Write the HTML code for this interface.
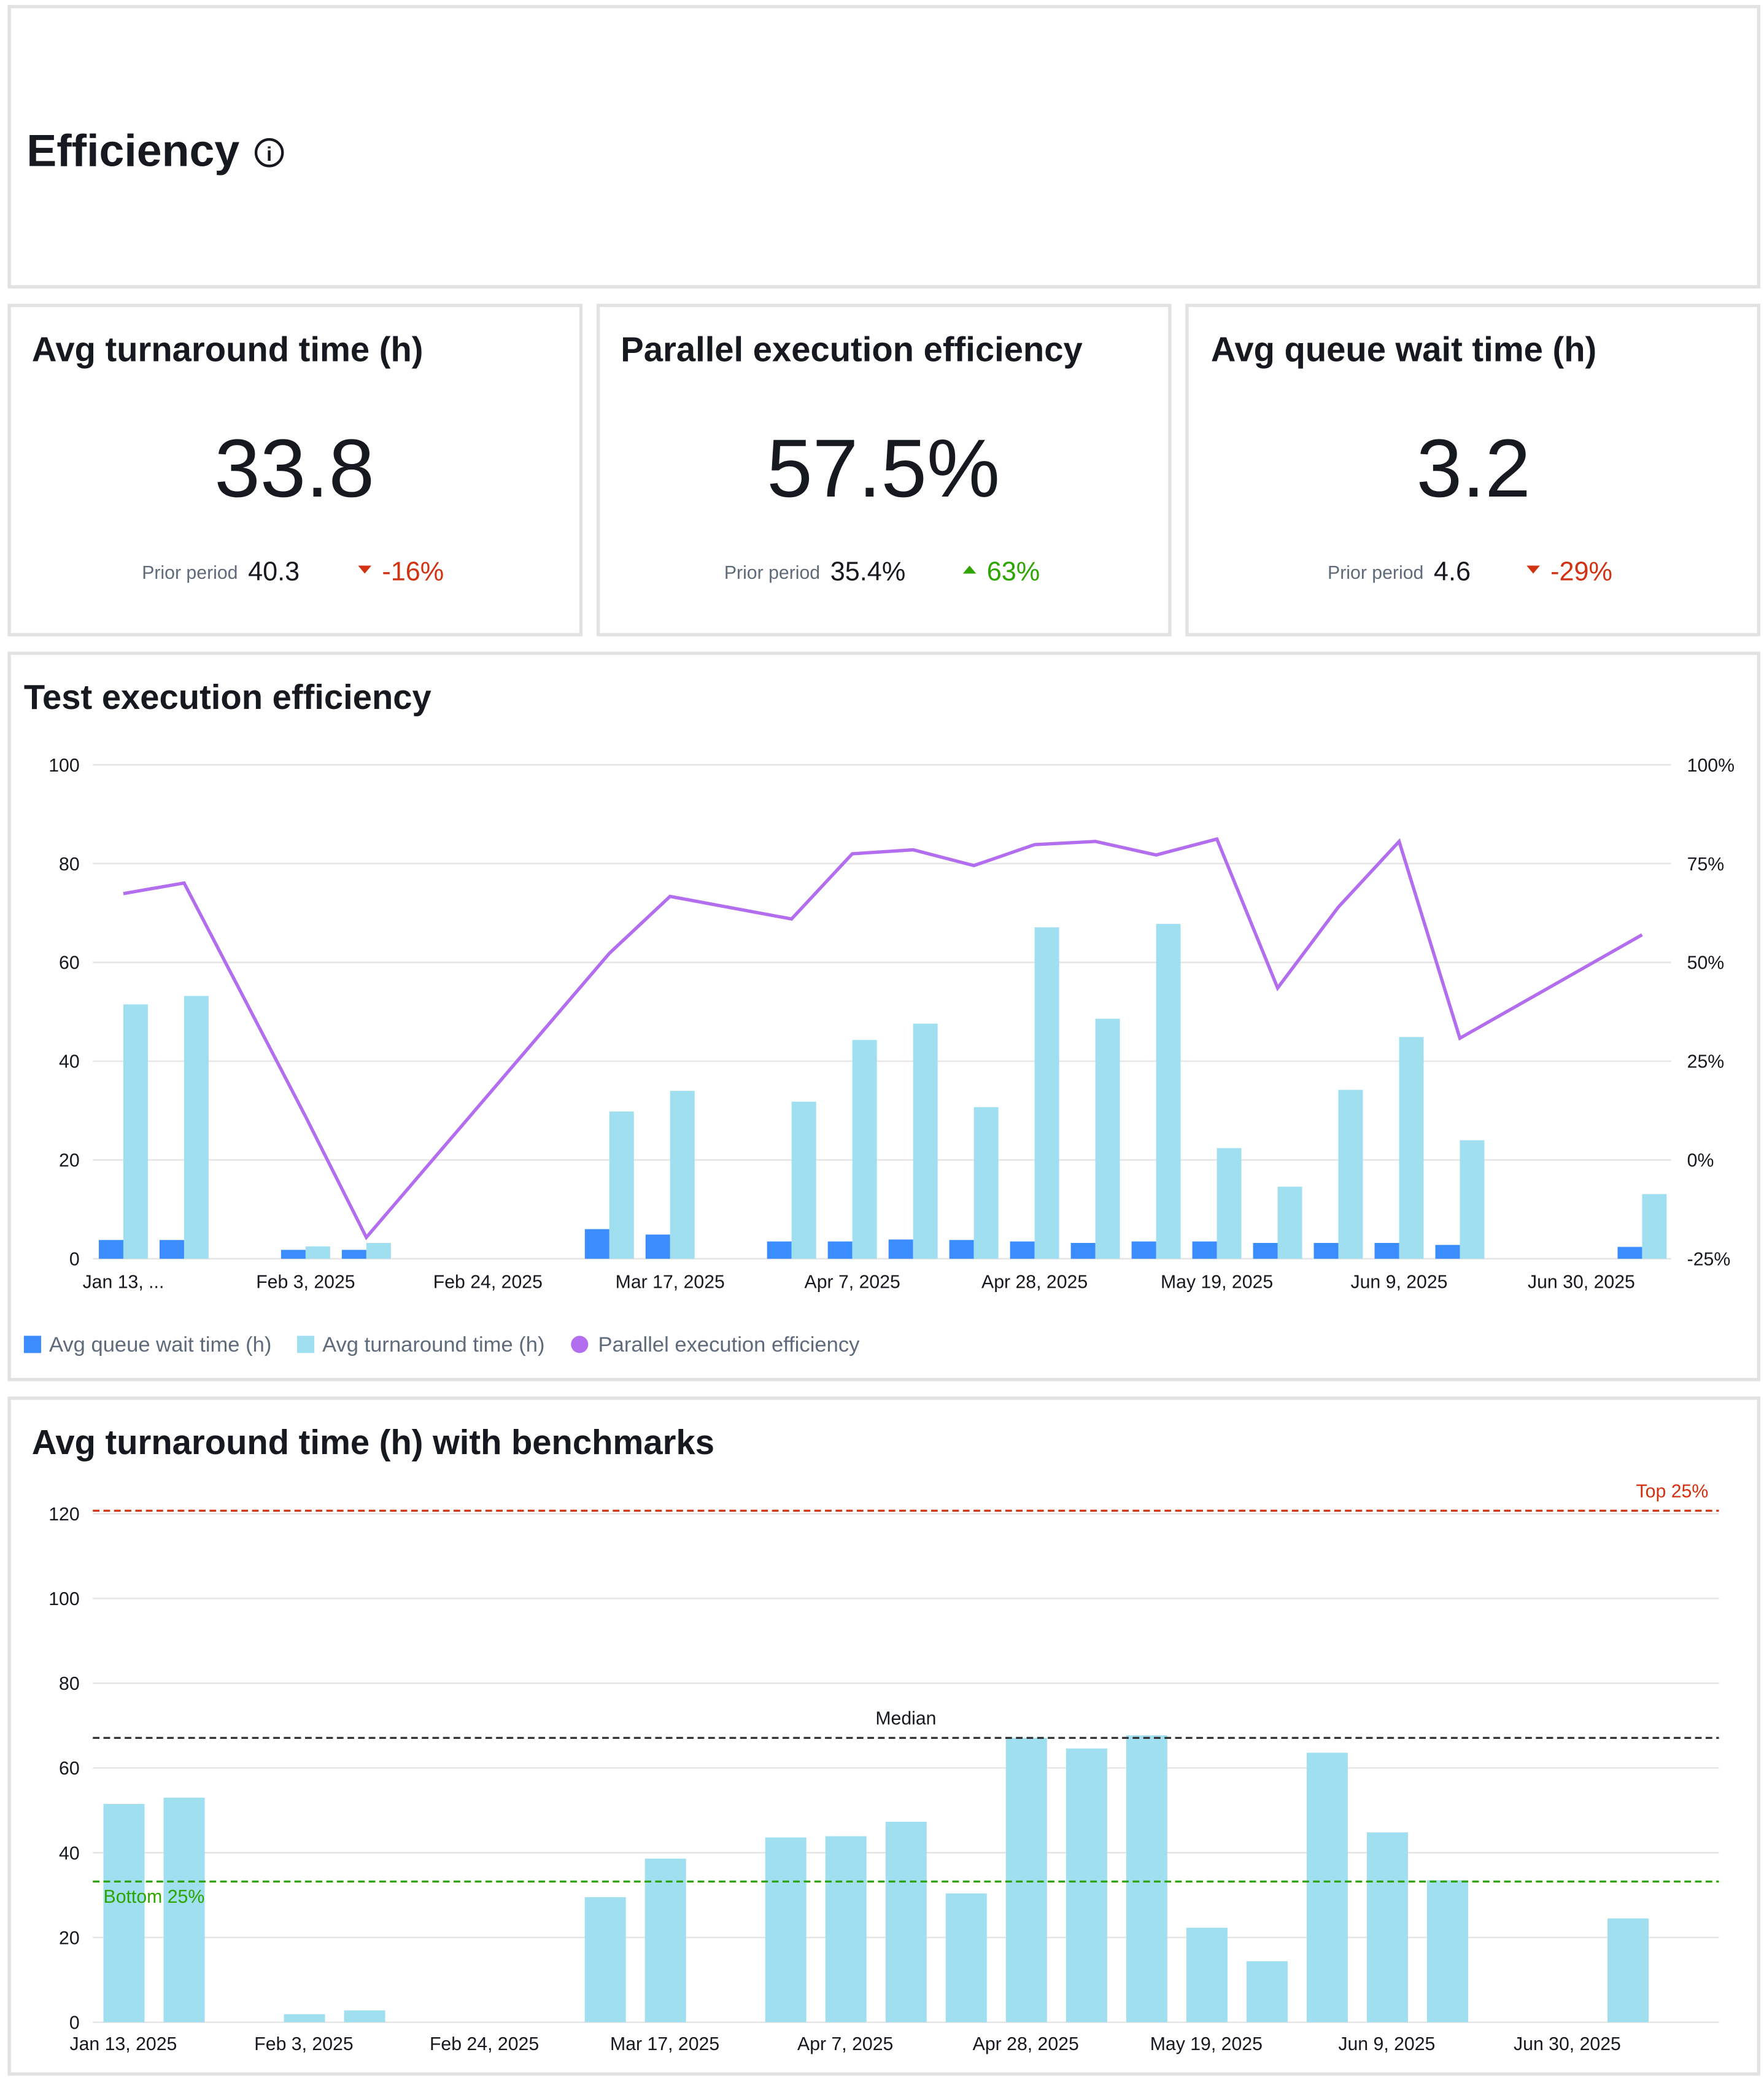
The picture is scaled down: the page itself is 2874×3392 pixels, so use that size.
<!DOCTYPE html>
<html><head><meta charset="utf-8">
<style>
html,body{margin:0;padding:0;background:#fff;}
svg{display:block;font-family:"Liberation Sans",sans-serif;}
</style></head>
<body>
<svg id="root" width="2874" height="3392" viewBox="0 0 1330 1568" preserveAspectRatio="none" xmlns="http://www.w3.org/2000/svg">
<rect x="0" y="0" width="1330" height="1568" fill="#fff"/>
<g>
<rect x="7" y="5" width="1319" height="211" fill="#fff" stroke="#e2e2e2" stroke-width="2.5"/>
<text x="20" y="125" font-size="34" font-weight="bold" fill="#16191f">Efficiency</text>
<g><circle cx="203" cy="115" r="10" fill="none" stroke="#16191f" stroke-width="2"/><text x="203" y="121" font-size="15" font-weight="bold" text-anchor="middle" fill="#16191f">i</text></g>
</g>

<g>
<rect x="7" y="230" width="431" height="248" fill="#fff" stroke="#e2e2e2" stroke-width="2.5"/>
<text x="24" y="272" font-size="26" font-weight="bold" fill="#16191f">Avg turnaround time (h)</text>
<text x="222" y="374" font-size="62" text-anchor="middle" fill="#16191f">33.8</text>
<text x="107" y="436" font-size="14" fill="#5f6b7a">Prior period</text>
<text x="187" y="437" font-size="20" fill="#16191f">40.3</text>
<path d="M270 426 L280 426 L275 432 Z" fill="#d13212"/>
<text x="288" y="437" font-size="20" fill="#d13212">-16%</text>
</g>
<g>
<rect x="451" y="230" width="431" height="248" fill="#fff" stroke="#e2e2e2" stroke-width="2.5"/>
<text x="468" y="272" font-size="26" font-weight="bold" fill="#16191f">Parallel execution efficiency</text>
<text x="666" y="374" font-size="62" text-anchor="middle" fill="#16191f">57.5%</text>
<text x="546" y="436" font-size="14" fill="#5f6b7a">Prior period</text>
<text x="626" y="437" font-size="20" fill="#16191f">35.4%</text>
<path d="M726 432 L736 432 L731 426 Z" fill="#2ea500"/>
<text x="744" y="437" font-size="20" fill="#2ea500">63%</text>
</g>
<g>
<rect x="895" y="230" width="431" height="248" fill="#fff" stroke="#e2e2e2" stroke-width="2.5"/>
<text x="913" y="272" font-size="26" font-weight="bold" fill="#16191f">Avg queue wait time (h)</text>
<text x="1111" y="374" font-size="62" text-anchor="middle" fill="#16191f">3.2</text>
<text x="1001" y="436" font-size="14" fill="#5f6b7a">Prior period</text>
<text x="1081" y="437" font-size="20" fill="#16191f">4.6</text>
<path d="M1151 426 L1161 426 L1156 432 Z" fill="#d13212"/>
<text x="1169" y="437" font-size="20" fill="#d13212">-29%</text>
</g>

<g>
<rect x="7" y="492" width="1319" height="547" fill="#fff" stroke="#e2e2e2" stroke-width="2.5"/>
<text x="18" y="534" font-size="26" font-weight="bold" fill="#16191f">Test execution efficiency</text>
<g id="c1"></g>
<g>
<g><rect x="18" y="1006" width="13" height="13" fill="#3b8cff"/><text x="37" y="1018" font-size="16" fill="#5f6b7a">Avg queue wait time (h)</text></g>
<g><rect x="224" y="1006" width="13" height="13" fill="#a0dff0"/><text x="243" y="1018" font-size="16" fill="#5f6b7a">Avg turnaround time (h)</text></g>
<g><circle cx="437" cy="1012.5" r="6.5" fill="#b36ef0"/><text x="451" y="1018" font-size="16" fill="#5f6b7a">Parallel execution efficiency</text></g>
</g>
</g>

<g>
<rect x="7" y="1053" width="1319" height="509" fill="#fff" stroke="#e2e2e2" stroke-width="2.5"/>
<text x="24" y="1095" font-size="26" font-weight="bold" fill="#16191f">Avg turnaround time (h) with benchmarks</text>
<g id="c2"></g>
</g>
</svg>
<script>
const weeks = ["Jan 13","Jan 20","Jan 27","Feb 3","Feb 10","Feb 17","Feb 24","Mar 3","Mar 10","Mar 17","Mar 24","Mar 31","Apr 7","Apr 14","Apr 21","Apr 28","May 5","May 12","May 19","May 26","Jun 2","Jun 9","Jun 16","Jun 23","Jun 30","Jul 7"];
const queueWait = [3.8,3.8,null,1.8,1.8,null,null,null,6.0,4.9,null,3.5,3.5,3.9,3.8,3.5,3.2,3.5,3.5,3.2,3.2,3.2,2.8,null,null,2.4];
const turnaround = [51.5,53.2,null,2.5,3.2,null,null,null,29.8,34.0,null,31.8,44.3,47.6,30.7,67.1,48.6,67.8,22.4,14.6,34.2,44.9,24.0,null,null,13.1];
const efficiency = [67.4,70.1,null,11,-19.6,null,null,null,52.3,66.7,null,61.0,77.5,78.5,74.5,79.8,80.6,77.2,81.2,43.5,64,80.6,30.8,null,null,57];
const leftTicks = [0,20,40,60,80,100];
const rightTicks = [-25,0,25,50,75,100];
const xLabelIdx1 = [0,3,6,9,12,15,18,21,24];
const xLabels1 = ["Jan 13, ...","Feb 3, 2025","Feb 24, 2025","Mar 17, 2025","Apr 7, 2025","Apr 28, 2025","May 19, 2025","Jun 9, 2025","Jun 30, 2025"];

const benchTurnaround = [51.5,53.0,null,1.9,2.8,null,null,null,29.5,38.6,null,43.6,43.9,47.3,30.4,67.1,64.6,67.7,22.3,14.4,63.6,44.8,33.5,null,null,24.5];
const benchTicks = [0,20,40,60,80,100,120];
const benchLines = [120.7,67.1,33.2];
const benchNames = ["Top 25%","Median","Bottom 25%"];
const xLabels2 = ["Jan 13, 2025","Feb 3, 2025","Feb 24, 2025","Mar 17, 2025","Apr 7, 2025","Apr 28, 2025","May 19, 2025","Jun 9, 2025","Jun 30, 2025"];

const NS="http://www.w3.org/2000/svg";
function mk(parent,tag,attrs,txt){const e=document.createElementNS(NS,tag);for(const k in attrs)e.setAttribute(k,attrs[k]);if(txt!=null)e.textContent=txt;parent.appendChild(e);return e;}

// Chart 1
(function(){
const g=document.getElementById('c1');
const x0=70.1,x1=1261,bw=(x1-x0)/weeks.length;
const yL=v=>948-(v/100)*372;
const yR=v=>948-((v+25)/125)*372;
const bx=i=>x0+bw*(i+0.5);
leftTicks.forEach((t,i)=>{
 const l=mk(g,'line',{x1:70,x2:1260,y1:yL(t),y2:yL(t),stroke:'#e6e6e6','stroke-width':1.2});
 
 
 const tx=mk(g,'text',{x:60,y:yL(t)+5,'font-size':14,'text-anchor':'end',fill:'#16191f'},String(t));
 
 
});
rightTicks.forEach(t=>{
 const tx=mk(g,'text',{x:1272,y:yR(t)+5,'font-size':14,fill:'#16191f'},t+'%');
 
 
});
xLabelIdx1.forEach((idx,k)=>{
 const tx=mk(g,'text',{x:bx(idx),y:970,'font-size':14,'text-anchor':'middle',fill:'#16191f'},xLabels1[k]);
 
 
});
const w=18.5;
weeks.forEach((wk,i)=>{
 if(queueWait[i]!=null){
  const r=mk(g,'rect',{x:bx(i)-w,y:yL(queueWait[i]),width:w,height:948-yL(queueWait[i]),fill:'#3b8cff'});
  
  
 }
 if(turnaround[i]!=null){
  const r=mk(g,'rect',{x:bx(i),y:yL(turnaround[i]),width:w,height:948-yL(turnaround[i]),fill:'#a0dff0'});
  
  
 }
});
const pts=[];
efficiency.forEach((v,i)=>{if(v!=null)pts.push(bx(i).toFixed(1)+','+yR(v).toFixed(1));});
const pl=mk(g,'polyline',{points:pts.join(' '),fill:'none',stroke:'#b36ef0','stroke-width':2.5,'stroke-linejoin':'miter'});


})();

// Chart 2
(function(){
const g=document.getElementById('c2');
const x0=70.3,x1=1249.7,bw=(x1-x0)/weeks.length;
const y=v=>1523-(v/120)*383;
const bx=i=>x0+bw*(i+0.5);
benchTicks.forEach(t=>{
 const l=mk(g,'line',{x1:70,x2:1296,y1:y(t),y2:y(t),stroke:'#e6e6e6','stroke-width':1.2});
 
 
 const tx=mk(g,'text',{x:60,y:y(t)+5,'font-size':14,'text-anchor':'end',fill:'#16191f'},String(t));
 
 
});
xLabelIdx1.forEach((idx,k)=>{
 const tx=mk(g,'text',{x:bx(idx),y:1544,'font-size':14,'text-anchor':'middle',fill:'#16191f'},xLabels2[k]);
 
 
});
const w=31;
benchTurnaround.forEach((v,i)=>{
 if(v==null)return;
 const r=mk(g,'rect',{x:bx(i)-w/2+0.5,y:y(v),width:w,height:1523-y(v),fill:'#a0dff0'});
 
 
});
const cols=['#d13212','#333333','#2ea500'];
benchLines.forEach((v,i)=>{
 const l=mk(g,'line',{x1:70,x2:1296,y1:y(v),y2:y(v),stroke:cols[i],'stroke-width':1.5,'stroke-dasharray':'5,3'});
 
 
});
const t1=mk(g,'text',{x:1288,y:y(benchLines[0])-10,'font-size':14,'text-anchor':'end',fill:cols[0]},benchNames[0]);


const t2=mk(g,'text',{x:683,y:y(benchLines[1])-10,'font-size':14,'text-anchor':'middle',fill:'#16191f'},benchNames[1]);


const t3=mk(g,'text',{x:78,y:y(benchLines[2])+16,'font-size':14,fill:cols[2]},benchNames[2]);


})();
</script>
</body></html>
